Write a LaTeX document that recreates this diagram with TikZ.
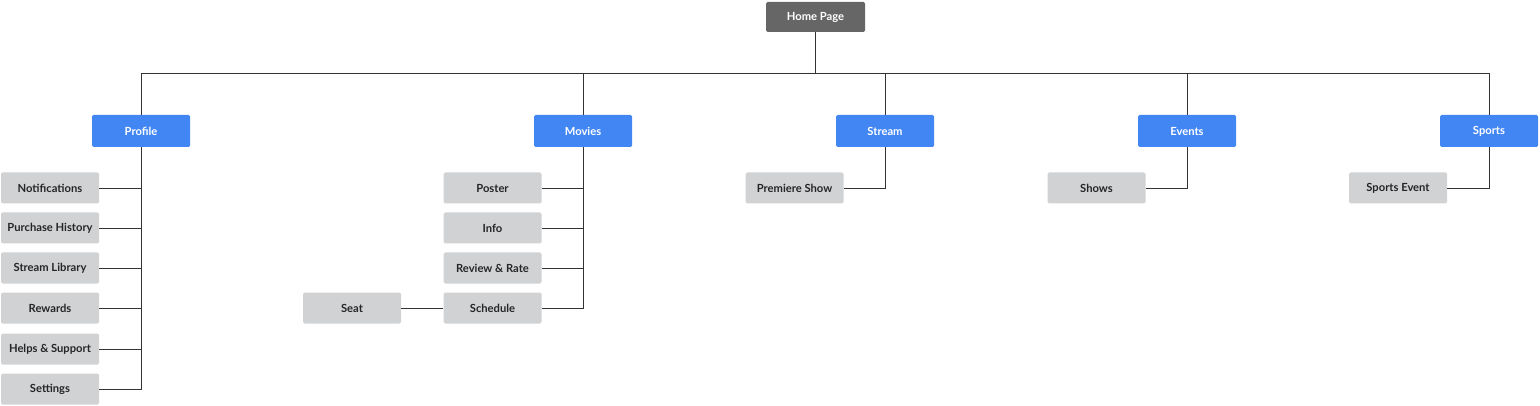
\documentclass[tikz,border=0pt]{standalone}
\usepackage{fontspec}
\setmainfont{Lato}
\definecolor{homegray}{HTML}{666666}
\definecolor{bluebox}{HTML}{4286F4}
\definecolor{graybox}{HTML}{D1D2D4}
\definecolor{linec}{HTML}{333333}
\begin{document}
\begin{tikzpicture}[x=1pt,y=-1pt,
  base/.style={rounded corners=1.5pt,minimum width=98pt,minimum height=31pt,inner sep=0pt,font=\fontsize{11.2}{13}\selectfont\bfseries},
  homebox/.style={base,fill=homegray,text=white,minimum width=99pt,minimum height=30pt},
  catbox/.style={base,fill=bluebox,text=white,minimum height=32pt},
  leafbox/.style={base,fill=graybox,text=black!85},
  conn/.style={draw=linec,line width=0.9pt}]
\useasboundingbox (0,0) rectangle (1540,406);
\node[homebox] (home) at (815.5,17) {Home Page};
\node[catbox] (profile) at (141,131) {Profile};
\node[catbox] (movies) at (583,131) {Movies};
\node[catbox] (stream) at (885,131) {Stream};
\node[catbox] (events) at (1187,131) {Events};
\node[catbox] (sports) at (1489,131) {Sports};
\coordinate (bus) at (815.5,73);
% profile children
\node[leafbox] (notif) at (50,188) {Notifications};
\node[leafbox] (purch) at (50,228) {Purchase History};
\node[leafbox] (slib) at (50,268) {Stream Library};
\node[leafbox] (rew) at (50,308) {Rewards};
\node[leafbox] (help) at (50,349) {Helps \& Support};
\node[leafbox] (sett) at (50,389) {Settings};
% movies children
\node[leafbox] (poster) at (492.5,188) {Poster};
\node[leafbox] (info) at (492.5,228) {Info};
\node[leafbox] (review) at (492.5,268) {Review \& Rate};
\node[leafbox] (sched) at (492.5,308) {Schedule};
\node[leafbox] (seat) at (352,308) {Seat};
% others
\node[leafbox] (prem) at (794.5,188) {Premiere Show};
\node[leafbox] (shows) at (1096.5,188) {Shows};
\node[leafbox] (sevent) at (1398,188) {Sports Event};
% connectors
\draw[conn] (home.south) -- (bus);
\foreach \c in {profile,movies,stream,events,sports}
  \draw[conn] (bus) -| (\c.north);
\foreach \c in {notif,purch,slib,rew,help,sett}
  \draw[conn] (profile.south) |- (\c.east);
\foreach \c in {poster,info,review,sched}
  \draw[conn] (movies.south) |- (\c.east);
\draw[conn] (sched.west) -- (seat.east);
\draw[conn] (stream.south) |- (prem.east);
\draw[conn] (events.south) |- (shows.east);
\draw[conn] (sports.south) |- (sevent.east);
\end{tikzpicture}
\end{document}
